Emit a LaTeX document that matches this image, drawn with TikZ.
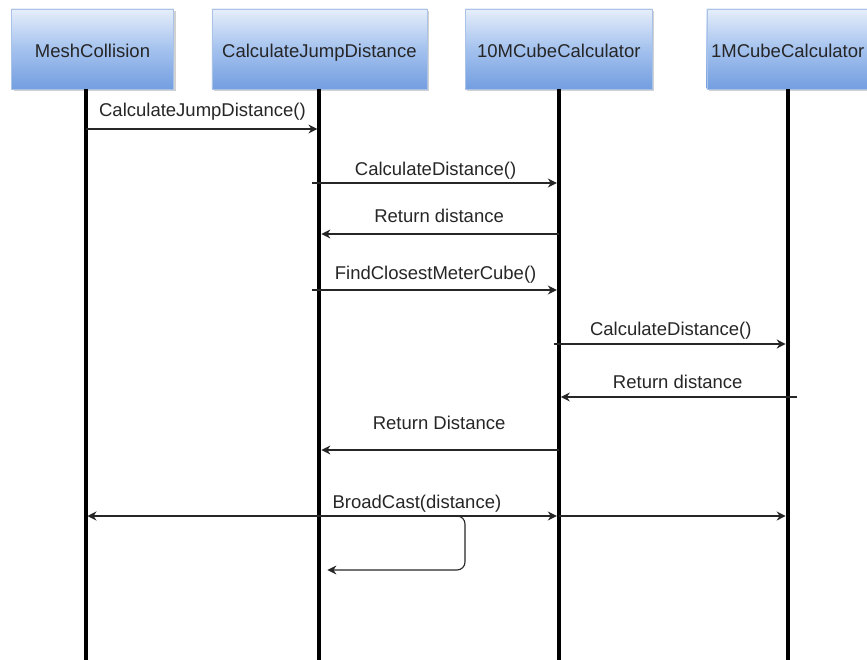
\documentclass[tikz,border=0pt]{standalone}
\usepackage{fontspec}
\setmainfont{Liberation Sans}
\usetikzlibrary{arrows.meta, positioning, shadows}
\definecolor{hdtop}{HTML}{E6EEFA}
\definecolor{hdmid}{HTML}{A4C2EE}
\definecolor{hdbot}{HTML}{739EE0}
\definecolor{hdline}{HTML}{A9C2E6}
\definecolor{txtgray}{HTML}{262626}

\begin{document}
\begin{tikzpicture}[
    x=1pt, y=-1pt,
    head/.style={rectangle, draw=hdline, top color=hdtop, bottom color=hdbot, middle color=hdmid,
                 minimum height=80pt, inner sep=0pt, align=center,
                 text height=18pt, text depth=0pt,
                 font=\fontsize{18.5}{22}\selectfont, text=txtgray,
                 drop shadow={shadow xshift=2pt, shadow yshift=-2.5pt, fill=black!40, opacity=.45}},
    life/.style={line width=4pt, draw=black},
    msg/.style={-{Stealth[length=9pt, width=9pt]}, line width=1.1pt, draw=black!85},
    lbl/.style={font=\fontsize{18.5}{22}\selectfont, text=txtgray, inner sep=0pt,
                text height=14pt, text depth=4pt}
  ]
    \useasboundingbox (0,0) rectangle (867,660);
    % participants
    \node[head, minimum width=162pt] (mesh) at (92.5,49) {MeshCollision};
    \node[head, minimum width=215pt, right=38pt of mesh] (jump) {CalculateJumpDistance};
    \node[head, minimum width=187pt, right=38pt of jump] (cube10) {10MCubeCalculator};
    \node[head, minimum width=162pt, right=54pt of cube10] (cube1) {1MCubeCalculator};

    % lifelines
    \coordinate (bottom) at (0,662);
    \coordinate (l1) at ([xshift=-7pt]mesh.south);
    \coordinate (l2) at (jump.south);
    \coordinate (l3) at (cube10.south);
    \coordinate (l4) at (cube1.south);
    \foreach \l in {l1,l2,l3,l4}
      \draw[life] (\l) -- (\l |- bottom);

    % message rows
    \coordinate (r1) at (0,129);
    \coordinate (r2) at (0,183);
    \coordinate (r3) at (0,234);
    \coordinate (r4) at (0,290);
    \coordinate (r5) at (0,344);
    \coordinate (r6) at (0,397);
    \coordinate (r7) at (0,450);
    \coordinate (r8) at (0,516);
    \coordinate (r9) at (0,570);
    \coordinate (loop) at (465,0);

    \draw[msg, shorten >=2pt] (l1 |- r1) -- node[lbl, above=8pt] {CalculateJumpDistance()} (l2 |- r1);
    \draw[msg, shorten >=2pt] ([xshift=-7pt]l2 |- r2) -- node[lbl, above=3pt] {CalculateDistance()} (l3 |- r2);
    \draw[msg, shorten >=2pt] (l3 |- r3) -- node[lbl, above=7pt] {Return distance} (l2 |- r3);
    \draw[msg, shorten >=2pt] ([xshift=-7pt]l2 |- r4) -- node[lbl, above=6pt] {FindClosestMeterCube()} (l3 |- r4);
    \draw[msg, shorten >=2pt] ([xshift=-5pt]l3 |- r5) -- node[lbl, above=4pt] {CalculateDistance()} (l4 |- r5);
    \draw[msg, shorten >=2pt] ([xshift=9pt]l4 |- r6) -- node[lbl, above=4pt] {Return distance} (l3 |- r6);
    \draw[msg, shorten >=2pt] (l3 |- r7) -- node[lbl, above=16pt] {Return Distance} (l2 |- r7);

    % broadcast
    \draw[msg, {Stealth[length=9pt, width=9pt]}-{Stealth[length=9pt, width=9pt]}, shorten <=2pt, shorten >=2pt]
      (l1 |- r8) -- (l3 |- r8);
    \node[lbl, anchor=south west] at ([xshift=13pt, yshift=3pt]l2 |- r8) {BroadCast(distance)};
    \draw[msg, shorten >=2pt] (l3 |- r8) -- (l4 |- r8);
    \draw[msg, rounded corners=8pt] (l2 |- r8) -- (loop |- r8) -- (loop |- r9) -- ([xshift=8pt]l2 |- r9);
  \end{tikzpicture}
\end{document}
